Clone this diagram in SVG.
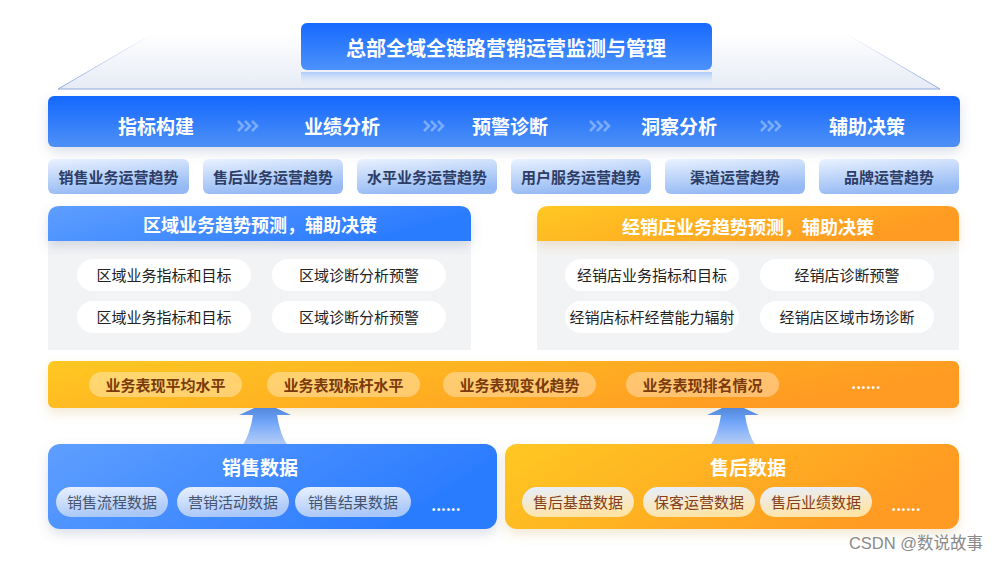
<svg xmlns="http://www.w3.org/2000/svg" width="1000" height="562" viewBox="0 0 1000 562">
<defs>
<linearGradient id="gTitle" x1="0" y1="0" x2="0" y2="1"><stop offset="0" stop-color="#1769ff"/><stop offset="1" stop-color="#4d92fb"/></linearGradient>
<linearGradient id="gRefl" x1="0" y1="0" x2="0" y2="1"><stop offset="0" stop-color="#5d9cff" stop-opacity="0.45"/><stop offset="1" stop-color="#ffffff" stop-opacity="0"/></linearGradient>
<linearGradient id="gPlat" x1="0" y1="0" x2="0" y2="1"><stop offset="0" stop-color="#ffffff"/><stop offset="1" stop-color="#e6ebf5"/></linearGradient>
<linearGradient id="gEdge" gradientUnits="userSpaceOnUse" x1="0" y1="33" x2="0" y2="89"><stop offset="0" stop-color="#9eb4e6" stop-opacity="0"/><stop offset="1" stop-color="#8ea8e0"/></linearGradient>
<linearGradient id="gBar" x1="0" y1="0" x2="0" y2="1"><stop offset="0" stop-color="#1468ff"/><stop offset="1" stop-color="#4e90f6"/></linearGradient>
<linearGradient id="gChip" x1="0" y1="0" x2="0.3" y2="1"><stop offset="0" stop-color="#eaf2ff"/><stop offset="1" stop-color="#94b9f4"/></linearGradient>
<linearGradient id="gBlueH" x1="0" y1="0" x2="1" y2="0.3"><stop offset="0" stop-color="#5e9eff"/><stop offset="1" stop-color="#2a7bff"/></linearGradient>
<linearGradient id="gOrgH" x1="0" y1="0" x2="1" y2="0.3"><stop offset="0" stop-color="#ffc824"/><stop offset="1" stop-color="#ff9a20"/></linearGradient>
<linearGradient id="gArrow" x1="0" y1="0" x2="0" y2="1"><stop offset="0" stop-color="#2a7bff"/><stop offset="1" stop-color="#a8c5f3" stop-opacity="0.8"/></linearGradient>
<linearGradient id="gBPill" x1="0" y1="0" x2="0.3" y2="1"><stop offset="0" stop-color="#e9f1ff"/><stop offset="1" stop-color="#a9c7f8"/></linearGradient>
<linearGradient id="gOPill" x1="0" y1="0" x2="0.3" y2="1"><stop offset="0" stop-color="#e6efff"/><stop offset="1" stop-color="#ffe4a8"/></linearGradient>
<filter id="sh" x="-10%" y="-30%" width="120%" height="170%"><feDropShadow dx="0" dy="5" stdDeviation="6" flood-color="#5a6e96" flood-opacity="0.22"/></filter>
<filter id="shO" x="-10%" y="-30%" width="120%" height="170%"><feDropShadow dx="0" dy="5" stdDeviation="6" flood-color="#c8952e" flood-opacity="0.22"/></filter>
</defs>
<style>
text{font-family:"Noto Sans CJK SC","Noto Sans",sans-serif;text-anchor:middle;dominant-baseline:central}
.wt{fill:#ffffff;font-weight:bold}
.chip{fill:url(#gChip)}
.chipt{fill:#2c3d66;font-size:15px;font-weight:bold}
.pill{fill:#ffffff}
.pillt{fill:#222222;font-size:15px}
.opill{fill:#ffffff;fill-opacity:0.35}
.opillt{fill:#7a3a0c;font-size:15px;font-weight:bold}
.bpill{fill:url(#gBPill)}
.bpillt{fill:#46546f;font-size:15px}
.apill{fill:url(#gOPill)}
.apillt{fill:#84401a;font-size:15px}
.chev{fill:none;stroke:#ffffff;stroke-opacity:0.35;stroke-width:2.5}
</style>
<rect width="1000" height="562" fill="#ffffff"/>
<g id="platform">
<path d="M154,33 L845,33 L940,89 L58,89 Z" fill="url(#gPlat)"/>
<path d="M154,33 L58,89 M845,33 L940,89" fill="none" stroke="url(#gEdge)" stroke-width="1"/>
<path d="M58,89 L940,89" fill="none" stroke="#8ea8e0" stroke-width="1"/>
</g>
<g id="title">
<rect x="301" y="72" width="411" height="16" fill="url(#gRefl)"/>
<rect x="301" y="23" width="411" height="47" rx="6" fill="url(#gTitle)"/>
<text x="506" y="47" class="wt" font-size="20">总部全域全链路营销运营监测与管理</text>
</g>
<g id="main-bar" filter="url(#sh)">
<rect x="48" y="96" width="912" height="51" rx="6" fill="url(#gBar)"/>
</g>
<g id="steps">
<text x="156" y="125" class="wt" font-size="19">指标构建</text>
<text x="342" y="125" class="wt" font-size="19">业绩分析</text>
<text x="510" y="125" class="wt" font-size="19">预警诊断</text>
<text x="679" y="125" class="wt" font-size="19">洞察分析</text>
<text x="867" y="125" class="wt" font-size="19">辅助决策</text>
</g>
<g id="connectors">
<path class="chev" d="M238,121 L243,126 L238,131 M245,121 L250,126 L245,131 M252,121 L257,126 L252,131"/>
<path class="chev" d="M424,121 L429,126 L424,131 M431,121 L436,126 L431,131 M438,121 L443,126 L438,131"/>
<path class="chev" d="M590,121 L595,126 L590,131 M597,121 L602,126 L597,131 M604,121 L609,126 L604,131"/>
<path class="chev" d="M761,121 L766,126 L761,131 M768,121 L773,126 L768,131 M775,121 L780,126 L775,131"/>
<path d="M265,403 L291,415 L277,415 Q280,435 288,446 L242,446 Q250,435 253,415 L239,415 Z" fill="url(#gArrow)"/>
<path d="M733,403 L759,415 L745,415 Q748,435 756,446 L710,446 Q718,435 721,415 L707,415 Z" fill="url(#gArrow)"/>
</g>
<g id="trend-chips">
<rect class="chip" x="48" y="159" width="141" height="35" rx="6"/><text class="chipt" x="118.5" y="176">销售业务运营趋势</text>
<rect class="chip" x="203" y="159" width="140" height="35" rx="6"/><text class="chipt" x="273" y="176">售后业务运营趋势</text>
<rect class="chip" x="357" y="159" width="140" height="35" rx="6"/><text class="chipt" x="427" y="176">水平业务运营趋势</text>
<rect class="chip" x="511" y="159" width="140" height="35" rx="6"/><text class="chipt" x="581" y="176">用户服务运营趋势</text>
<rect class="chip" x="665" y="159" width="140" height="35" rx="6"/><text class="chipt" x="735" y="176">渠道运营趋势</text>
<rect class="chip" x="819" y="159" width="140" height="35" rx="6"/><text class="chipt" x="889" y="176">品牌运营趋势</text>
</g>
<g id="region-panel">
<rect x="48" y="241" width="423" height="109" fill="#f2f3f5"/>
<path d="M60,206 L459,206 Q471,206 471,218 L471,241 L48,241 L48,218 Q48,206 60,206 Z" fill="url(#gBlueH)" filter="url(#sh)"/>
<text x="260" y="224" class="wt" font-size="18">区域业务趋势预测，辅助决策</text>
<rect class="pill" x="77" y="259" width="174" height="32" rx="16"/><text class="pillt" x="164" y="274.5">区域业务指标和目标</text>
<rect class="pill" x="272" y="259" width="174" height="32" rx="16"/><text class="pillt" x="359" y="274.5">区域诊断分析预警</text>
<rect class="pill" x="77" y="301" width="174" height="32" rx="16"/><text class="pillt" x="164" y="316.5">区域业务指标和目标</text>
<rect class="pill" x="272" y="301" width="174" height="32" rx="16"/><text class="pillt" x="359" y="316.5">区域诊断分析预警</text>
</g>
<g id="dealer-panel">
<rect x="537" y="241" width="422" height="109" fill="#f2f3f5"/>
<path d="M549,206 L947,206 Q959,206 959,218 L959,241 L537,241 L537,218 Q537,206 549,206 Z" fill="url(#gOrgH)" filter="url(#shO)"/>
<text x="748" y="226" class="wt" font-size="18">经销店业务趋势预测，辅助决策</text>
<rect class="pill" x="565" y="259" width="174" height="32" rx="16"/><text class="pillt" x="652" y="274.5">经销店业务指标和目标</text>
<rect class="pill" x="760" y="259" width="174" height="32" rx="16"/><text class="pillt" x="847" y="274.5">经销店诊断预警</text>
<rect class="pill" x="565" y="301" width="174" height="32" rx="16"/><text class="pillt" x="652" y="316.5">经销店标杆经营能力辐射</text>
<rect class="pill" x="760" y="301" width="174" height="32" rx="16"/><text class="pillt" x="847" y="316.5">经销店区域市场诊断</text>
</g>
<g id="performance-bar">
<rect x="48" y="361" width="911" height="47" rx="6" fill="url(#gOrgH)" filter="url(#shO)"/>
<rect class="opill" x="89" y="372" width="153" height="25" rx="12.5"/><text class="opillt" x="165.5" y="384">业务表现平均水平</text>
<rect class="opill" x="267" y="372" width="153" height="25" rx="12.5"/><text class="opillt" x="343.5" y="384">业务表现标杆水平</text>
<rect class="opill" x="443" y="372" width="153" height="25" rx="12.5"/><text class="opillt" x="519.5" y="384">业务表现变化趋势</text>
<rect class="opill" x="626" y="372" width="153" height="25" rx="12.5"/><text class="opillt" x="702.5" y="384">业务表现排名情况</text>
<text class="wt" x="866" y="382" font-size="15">......</text>
</g>
<g id="sales-data">
<rect x="48" y="444" width="449" height="85" rx="12" fill="url(#gBlueH)" filter="url(#sh)"/>
<text class="wt" x="260" y="466" font-size="19">销售数据</text>
<rect class="bpill" x="56" y="487" width="112" height="30" rx="15"/><text class="bpillt" x="112" y="501.5">销售流程数据</text>
<rect class="bpill" x="177" y="487" width="112" height="30" rx="15"/><text class="bpillt" x="233" y="501.5">营销活动数据</text>
<rect class="bpill" x="295" y="487" width="116" height="30" rx="15"/><text class="bpillt" x="353" y="501.5">销售结果数据</text>
<text class="wt" x="446" y="504" font-size="15">......</text>
</g>
<g id="aftersales-data">
<rect x="505" y="444" width="454" height="85" rx="12" fill="url(#gOrgH)" filter="url(#shO)"/>
<text class="wt" x="748" y="466" font-size="19">售后数据</text>
<rect class="apill" x="522" y="487" width="112" height="30" rx="15"/><text class="apillt" x="578" y="501.5">售后基盘数据</text>
<rect class="apill" x="643" y="487" width="112" height="30" rx="15"/><text class="apillt" x="699" y="501.5">保客运营数据</text>
<rect class="apill" x="760" y="487" width="112" height="30" rx="15"/><text class="apillt" x="816" y="501.5">售后业绩数据</text>
<text class="wt" x="906" y="504" font-size="15">......</text>
</g>
<g id="watermark">
<text x="916" y="543" font-size="16.5" fill="#8a8a8a" style="font-family:'Liberation Sans','Noto Sans CJK SC',sans-serif">CSDN @数说故事</text>
</g>
</svg>
